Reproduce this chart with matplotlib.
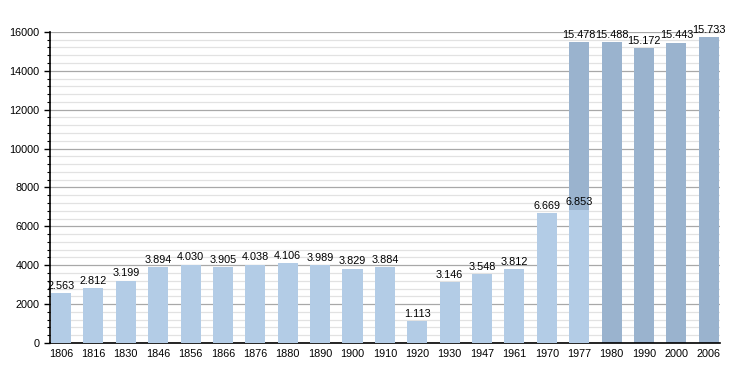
import numpy as np
import matplotlib
matplotlib.use("Agg")
import matplotlib.pyplot as plt
from matplotlib.ticker import MultipleLocator

plt.rcParams['font.family'] = ['Liberation Sans', 'DejaVu Sans']

years = ['1806', '1816', '1830', '1846', '1856', '1866', '1876', '1880', '1890', '1900',
         '1910', '1920', '1930', '1947', '1961', '1970', '1977', '1980', '1990', '2000', '2006']
# primeira serie (clara), ate 1977
pop_a = [2563, 2812, 3199, 3894, 4030, 3905, 4038, 4106, 3989, 3829,
         3884, 1113, 3146, 3548, 3812, 6669, 6853]
# segunda serie (escura), de 1977 em diante
pop_b = [15478, 15488, 15172, 15443, 15733]

cor_clara = '#b3cce6'
cor_escura = '#9ab3ce'

def fmt(v):
    return '{:,}'.format(v).replace(',', '.')

fig = plt.figure(figsize=(7.5, 3.73), dpi=100)
ax = fig.add_axes([0.0667, 0.0804, 0.893, 0.834])

x = np.arange(len(years))
xa = x[:len(pop_a)]
xb = x[len(years) - len(pop_b):]
w = 0.62

ax.bar(xb, pop_b, width=w, color=cor_escura, zorder=2)
ax.bar(xa, pop_a, width=w, color=cor_clara, zorder=3)

for xi, v in zip(xa, pop_a):
    ax.text(xi, v + 120, fmt(v), ha='center', va='bottom', fontsize=7.8, zorder=4)
for xi, v in zip(xb, pop_b):
    ax.text(xi, v + 120, fmt(v), ha='center', va='bottom', fontsize=7.8, zorder=4)

ax.set_xlim(-0.34, len(years) - 0.66)
ax.set_ylim(0, 16000)
ax.set_xticks(x)
ax.set_xticklabels(years, fontsize=7.8)
ax.yaxis.set_major_locator(MultipleLocator(2000))
ax.yaxis.set_minor_locator(MultipleLocator(400))
ax.tick_params(axis='y', labelsize=7.8, length=4, width=1)
ax.tick_params(axis='y', which='minor', length=2.5, width=0.8)
ax.tick_params(axis='x', length=0, pad=4)

ax.grid(axis='y', which='major', color='#a8a8a8', linewidth=0.9, zorder=0)
ax.grid(axis='y', which='minor', color='#e2e2e2', linewidth=0.9, zorder=0)
ax.set_axisbelow(True)

for s in ['top', 'right']:
    ax.spines[s].set_visible(False)
ax.spines['left'].set_linewidth(1.2)
ax.spines['bottom'].set_linewidth(1.2)

fig.savefig('out.png', dpi=100)
